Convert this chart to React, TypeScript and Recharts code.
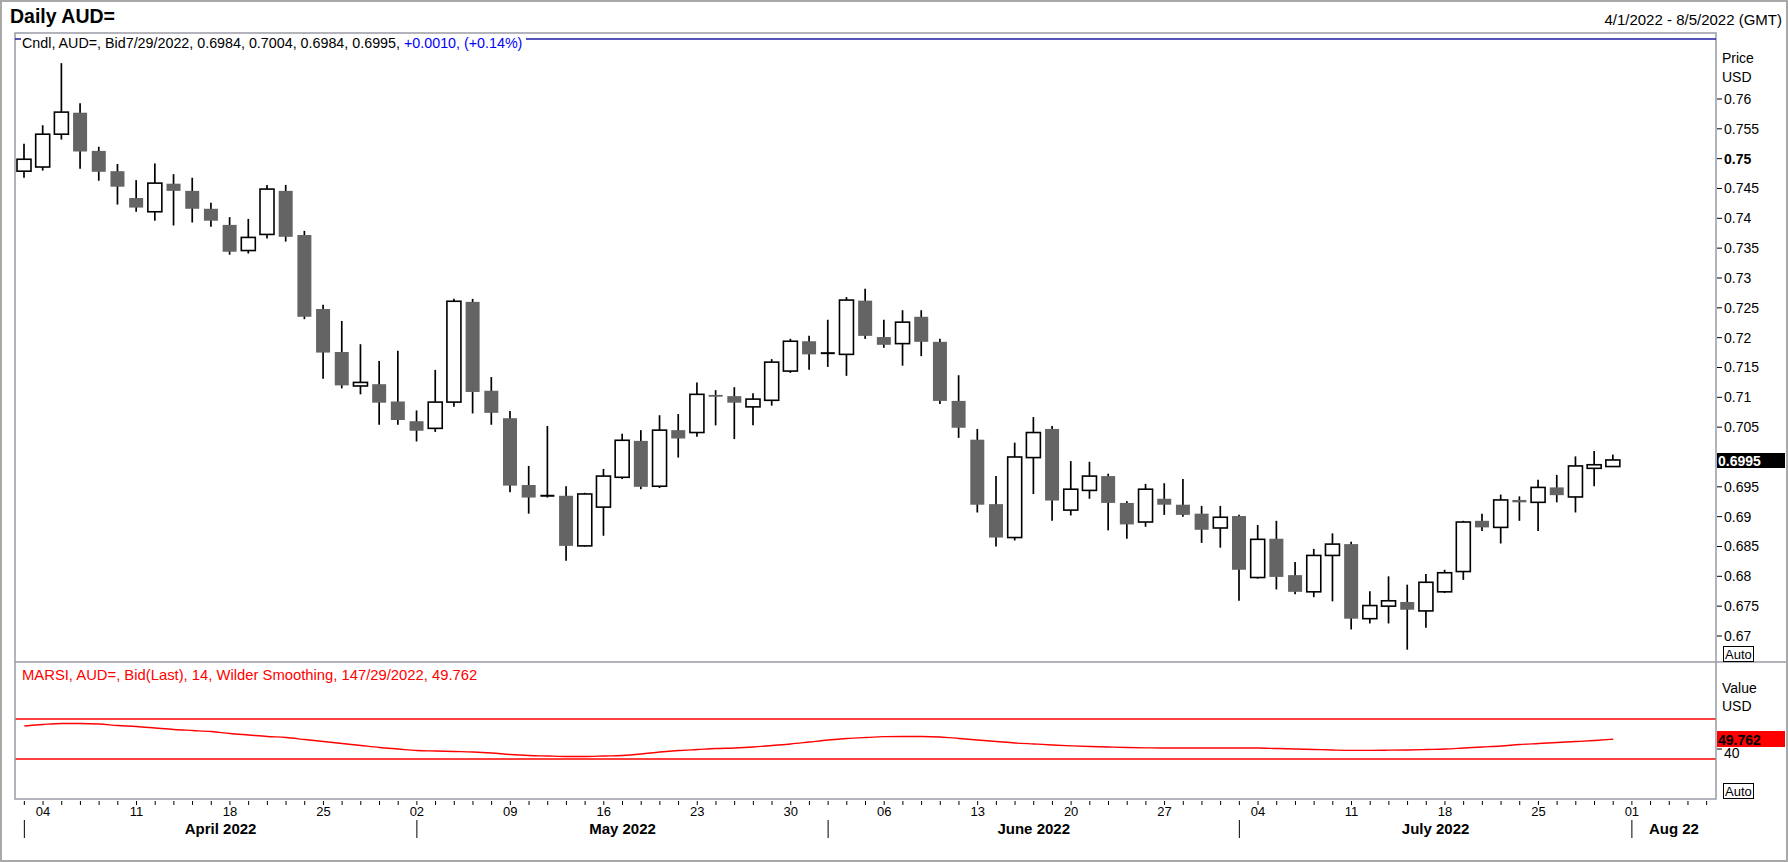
import { Bar, ComposedChart, Line, ReferenceLine, XAxis, YAxis } from "recharts";

// weekday slots on the axis, Apr 1 - Aug 5 2022
const dates = [
  "04-01", "04-04", "04-05", "04-06", "04-07", "04-08", "04-11", "04-12", "04-13", "04-14", "04-15",
  "04-18", "04-19", "04-20", "04-21", "04-22", "04-25", "04-26", "04-27", "04-28", "04-29",
  "05-02", "05-03", "05-04", "05-05", "05-06", "05-09", "05-10", "05-11", "05-12", "05-13",
  "05-16", "05-17", "05-18", "05-19", "05-20", "05-23", "05-24", "05-25", "05-26", "05-27", "05-30", "05-31",
  "06-01", "06-02", "06-03", "06-06", "06-07", "06-08", "06-09", "06-10", "06-13", "06-14", "06-15",
  "06-16", "06-17", "06-20", "06-21", "06-22", "06-23", "06-24", "06-27", "06-28", "06-29", "06-30",
  "07-01", "07-04", "07-05", "07-06", "07-07", "07-08", "07-11", "07-12", "07-13", "07-14", "07-15",
  "07-18", "07-19", "07-20", "07-21", "07-22", "07-25", "07-26", "07-27", "07-28", "07-29",
  "08-01", "08-02", "08-03", "08-04", "08-05",
];

const mondays = [
  "04-04", "04-11", "04-18", "04-25", "05-02", "05-09", "05-16", "05-23", "05-30",
  "06-06", "06-13", "06-20", "06-27", "07-04", "07-11", "07-18", "07-25", "08-01",
];

const monthStarts = ["04-01", "05-02", "06-01", "07-01", "08-01"];
const monthLabels = ["April 2022", "May 2022", "June 2022", "July 2022", "Aug 22"];

const open = [
  0.7479, 0.7486, 0.7541, 0.7577, 0.7513, 0.7479, 0.7434, 0.7411, 0.7458, 0.7446,
  0.7416, 0.7389, 0.7346, 0.7373, 0.7446, 0.7372, 0.7248, 0.7176, 0.7119, 0.7122,
  0.7093, 0.706, 0.7048, 0.7092, 0.726, 0.7111, 0.7065, 0.6953, 0.6935, 0.6935,
  0.6851, 0.6916, 0.6966, 0.7027, 0.6951, 0.7045, 0.7041, 0.7104, 0.7102, 0.7084,
  0.7095, 0.7144, 0.7194, 0.7174, 0.7172, 0.7262, 0.7201, 0.719, 0.7235, 0.7193,
  0.7094, 0.7029, 0.6921, 0.6865, 0.6999, 0.7047, 0.6911, 0.6944, 0.6968, 0.6923,
  0.6891, 0.693, 0.692, 0.6905, 0.6881, 0.6901, 0.6798, 0.6863, 0.6802, 0.6774,
  0.6835, 0.6854, 0.6729, 0.675, 0.6757, 0.6742, 0.6774, 0.6808, 0.6893, 0.6882,
  0.6928, 0.6924, 0.6949, 0.6933, 0.6981, 0.6984,
];

const high = [
  0.7525, 0.7556, 0.766, 0.7593, 0.752, 0.7491, 0.7464, 0.7492, 0.7474, 0.7468,
  0.7426, 0.7402, 0.7399, 0.7456, 0.7456, 0.7379, 0.7255, 0.7228, 0.7189, 0.7161,
  0.7178, 0.7078, 0.7146, 0.7265, 0.7265, 0.7134, 0.7077, 0.6985, 0.7052, 0.6951,
  0.694, 0.698, 0.7039, 0.7045, 0.707, 0.7072, 0.7125, 0.7112, 0.7117, 0.7107,
  0.7164, 0.7198, 0.7203, 0.723, 0.7268, 0.7282, 0.723, 0.7246, 0.7246, 0.7198,
  0.7137, 0.7047, 0.6968, 0.7024, 0.7067, 0.7052, 0.6993, 0.6992, 0.6972, 0.6926,
  0.6955, 0.6956, 0.6963, 0.6918, 0.6918, 0.6903, 0.6886, 0.6893, 0.6824, 0.6846,
  0.6872, 0.6858, 0.6775, 0.68, 0.6786, 0.6804, 0.6811, 0.6893, 0.6905, 0.6937,
  0.6934, 0.6962, 0.697, 0.7001, 0.701, 0.7004,
];

const low = [
  0.7468, 0.748, 0.7532, 0.7483, 0.7463, 0.7423, 0.7411, 0.7396, 0.7388, 0.7393,
  0.7386, 0.7339, 0.7341, 0.7366, 0.7361, 0.7231, 0.7131, 0.7115, 0.7105, 0.7054,
  0.7054, 0.7026, 0.7042, 0.7084, 0.7073, 0.7054, 0.6941, 0.6905, 0.6932, 0.6826,
  0.685, 0.6868, 0.6963, 0.6946, 0.6948, 0.6999, 0.7034, 0.7053, 0.703, 0.7053,
  0.7086, 0.7141, 0.7146, 0.7151, 0.7136, 0.7198, 0.7183, 0.7153, 0.7169, 0.7089,
  0.7032, 0.6907, 0.685, 0.686, 0.6938, 0.6893, 0.6902, 0.693, 0.6877, 0.6863,
  0.6883, 0.6903, 0.69, 0.6856, 0.6848, 0.6759, 0.6796, 0.6778, 0.677, 0.6765,
  0.6758, 0.6711, 0.6721, 0.6721, 0.6677, 0.6714, 0.6772, 0.6794, 0.6876, 0.6855,
  0.6893, 0.6876, 0.6924, 0.6907, 0.6951, 0.6984,
];

const close = [
  0.7499, 0.7541, 0.7578, 0.7512, 0.7478, 0.7453, 0.7418, 0.7459, 0.7446, 0.7416,
  0.7396, 0.7344, 0.7368, 0.7449, 0.7369, 0.7235, 0.7175, 0.712, 0.7125, 0.7091,
  0.7062, 0.7044, 0.7092, 0.7261, 0.7109, 0.7074, 0.6952, 0.6932, 0.6934, 0.6851,
  0.6938, 0.6968, 0.7028, 0.695, 0.7045, 0.7031, 0.7105, 0.7101, 0.7091, 0.7097,
  0.7159, 0.7194, 0.7172, 0.7174, 0.7263, 0.7203, 0.7188, 0.7226, 0.7193, 0.7094,
  0.7049, 0.692, 0.6865, 0.7, 0.7041, 0.6927, 0.6946, 0.6968, 0.6923, 0.6887,
  0.6946, 0.692, 0.6903, 0.6878, 0.6899, 0.6811, 0.6862, 0.6799, 0.6774, 0.6835,
  0.6854, 0.6729, 0.6751, 0.6759, 0.6744, 0.679, 0.6806, 0.6891, 0.6882, 0.6928,
  0.6924, 0.6949, 0.6936, 0.6985, 0.6987, 0.6995,
];

const rsi = [
  63, 64.5, 65.5, 65.5, 65, 63.5, 62.5, 61, 59.5, 58.5,
  57.5, 55.5, 54, 52.5, 51.5, 49.5, 47.5, 45.5, 43.5, 41.5,
  40, 38.5, 38, 37.5, 37, 36, 34.5, 33.5, 33, 32.5,
  32.5, 33, 33.5, 35, 37, 38.5, 39.5, 40.5, 41, 42,
  43.5, 45, 47, 49, 50.5, 51.5, 52.3, 52.5, 52.5, 52,
  50.5, 49, 47.5, 46, 45, 44, 43.2, 42.5, 42, 41.5,
  41.2, 41, 41, 41, 41, 41, 41, 40.5, 40, 39.5,
  39, 38.7, 38.7, 38.8, 39, 39.5, 40, 41, 42, 43,
  44.5, 45.5, 46.5, 47.5, 48.5, 49.762,
];

const priceTicks = [
  0.67, 0.675, 0.68, 0.685, 0.69, 0.695, 0.7, 0.705, 0.71, 0.715,
  0.72, 0.725, 0.73, 0.735, 0.74, 0.745, 0.75, 0.755, 0.76,
];

const rows = dates.map((d, i) => ({
  d,
  o: open[i] ?? null,
  h: high[i] ?? null,
  l: low[i] ?? null,
  c: close[i] ?? null,
  rsi: rsi[i] ?? null,
}));

const FONT = "'Liberation Sans', Arial, Helvetica, sans-serif";
const W = 1788;
const PLOT_L = 15;
const PLOT_R = 1716;
const BAND = (PLOT_R - PLOT_L) / dates.length;
const FRAME = "#9a9aa6";

function Candle(props: any) {
  const { x, y, width, height, payload } = props;
  if (payload == null || payload.h == null) return <g />;
  const top = Math.min(y, y + height);
  const hh = Math.abs(height);
  const k = hh / (payload.h - payload.l || 1);
  const py = (v: number) => top + (payload.h - v) * k;
  const cx = x + width / 2;
  const up = payload.c > payload.o;
  const bTop = py(Math.max(payload.o, payload.c));
  const bBot = py(Math.min(payload.o, payload.c));
  const doji = Math.abs(payload.o - payload.c) < 0.00015;
  return (
    <g>
      <line x1={cx} x2={cx} y1={top} y2={top + hh} stroke="#000" strokeWidth={1.7} />
      {doji ? (
        <line x1={x} x2={x + width} y1={bTop} y2={bTop} stroke="#000" strokeWidth={2} />
      ) : (
        <rect
          x={x}
          y={bTop}
          width={width}
          height={Math.max(bBot - bTop, 1.5)}
          fill={up ? "#ffffff" : "#646464"}
          stroke={up ? "#000" : "none"}
          strokeWidth={1.6}
        />
      )}
    </g>
  );
}

function PriceTick(props: any) {
  const { y, payload } = props;
  const v = payload.value;
  return (
    <g>
      <line x1={PLOT_R + 1} x2={PLOT_R + 6} y1={y} y2={y} stroke="#000" />
      {/* 0.7 sits under the last-price box in the reference */}
      {v !== 0.7 && (
        <text x={PLOT_R + 8} y={y} dy="0.35em" fontSize={14} fontWeight={v === 0.75 ? "bold" : "normal"} fill="#000">
          {String(v)}
        </text>
      )}
    </g>
  );
}

function RsiTick(props: any) {
  const { y, payload } = props;
  return (
    <g>
      <line x1={PLOT_R + 1} x2={PLOT_R + 6} y1={y} y2={y} stroke="#000" />
      <text x={PLOT_R + 8} y={y + 4} dy="0.35em" fontSize={14} fill="#000">
        {String(payload.value)}
      </text>
    </g>
  );
}

// x axis of the lower panel: one tick per weekday, day number on Mondays, month row below
function DateTick(props: any) {
  const { x, payload } = props;
  const d: string = payload.value;
  const axisY = 137;
  const mi = monthStarts.indexOf(d);
  let month = null;
  if (mi >= 0) {
    const s = dates.indexOf(d);
    const e = mi + 1 < monthStarts.length ? dates.indexOf(monthStarts[mi + 1]) : dates.length - 0.5;
    const cx = x + ((e - s) / 2) * BAND;
    month = (
      <g>
        <line x1={x} x2={x} y1={axisY + 21} y2={axisY + 39} stroke="#000" />
        <text x={cx} y={axisY + 35} textAnchor="middle" fontSize={15} fontWeight="bold" fill="#000">
          {monthLabels[mi]}
        </text>
      </g>
    );
  }
  return (
    <g>
      <line x1={x} x2={x} y1={axisY + 2} y2={axisY + 6} stroke="#000" />
      {mondays.includes(d) && (
        <text x={x} y={axisY + 17} textAnchor="middle" fontSize={13} fill="#000">
          {d.slice(3)}
        </text>
      )}
      {month}
    </g>
  );
}

export default function App() {
  return (
    <div
      style={{
        position: "absolute",
        left: 0,
        top: 0,
        width: W,
        height: 862,
        background: "#fff",
        overflow: "hidden",
        fontFamily: FONT,
      }}
    >
      <div style={{ position: "absolute", left: 0, top: 0 }}>
        <ComposedChart width={W} height={662} data={rows} margin={{ top: 33, right: 0, bottom: 0, left: PLOT_L }}>
          <XAxis dataKey="d" hide />
          <YAxis
            orientation="right"
            width={72}
            domain={[0.66564, 0.77106]}
            allowDataOverflow
            ticks={priceTicks}
            interval={0}
            axisLine={false}
            tickLine={false}
            tick={<PriceTick />}
          />
          <Bar
            dataKey={(r: any) => (r.h == null ? null : [r.l, r.h])}
            barSize={14}
            shape={<Candle />}
            isAnimationActive={false}
          />
        </ComposedChart>
      </div>
      <div style={{ position: "absolute", left: 0, top: 662 }}>
        <ComposedChart width={W} height={200} data={rows} margin={{ top: 0, right: 0, bottom: 0, left: PLOT_L }}>
          <XAxis
            dataKey="d"
            height={63}
            interval={0}
            padding={{ left: BAND / 2, right: BAND / 2 }}
            axisLine={false}
            tickLine={false}
            tick={<DateTick />}
          />
          <YAxis
            orientation="right"
            width={72}
            domain={[-10, 127]}
            allowDataOverflow
            ticks={[40]}
            axisLine={false}
            tickLine={false}
            tick={<RsiTick />}
          />
          <ReferenceLine y={70} stroke="#ff0000" strokeWidth={1.3} />
          <ReferenceLine y={30} stroke="#ff0000" strokeWidth={1.3} />
          <Line
            dataKey="rsi"
            type="monotone"
            stroke="#ff0000"
            strokeWidth={1.3}
            dot={false}
            isAnimationActive={false}
          />
        </ComposedChart>
      </div>
      <svg
        width={W}
        height={862}
        style={{ position: "absolute", left: 0, top: 0, pointerEvents: "none" }}
      >
        <rect x={1} y={1} width={W - 2} height={860} fill="none" stroke="#a8a8a8" strokeWidth={2} />
        <text x={10} y={23} fontSize={19.5} fontWeight="bold" fill="#000">
          Daily AUD=
        </text>
        <text x={1782} y={25} fontSize={15} textAnchor="end" fill="#000">
          4/1/2022 - 8/5/2022 (GMT)
        </text>
        <rect x={PLOT_L} y={33} width={PLOT_R - PLOT_L} height={766} fill="none" stroke={FRAME} strokeWidth={1.5} />
        <line x1={PLOT_L} x2={1786} y1={662} y2={662} stroke={FRAME} strokeWidth={1.5} />
        <line x1={PLOT_L} x2={PLOT_R} y1={39} y2={39} stroke="#1c1ca0" strokeWidth={1.3} />
        <rect x={21} y={34} width={505} height={14} fill="#fff" />
        <text x={22} y={48} fontSize={14.3} fill="#000">
          Cndl, AUD=, Bid7/29/2022, 0.6984, 0.7004, 0.6984, 0.6995,{" "}
          <tspan fill="#0000ff">+0.0010, (+0.14%)</tspan>
        </text>
        <text x={22} y={680} fontSize={14.8} fill="#ff0000">
          MARSI, AUD=, Bid(Last),  14, Wilder Smoothing, 147/29/2022, 49.762
        </text>
        <text x={1722} y={63} fontSize={14} fill="#000">Price</text>
        <text x={1722} y={82} fontSize={14} fill="#000">USD</text>
        <rect x={1717} y={453} width={68} height={15} fill="#000" />
        <text x={1718} y={466} fontSize={14} fontWeight="bold" fill="#fff">0.6995</text>
        <rect x={1723.5} y={646.5} width={30} height={15} fill="#fff" stroke="#000" />
        <text x={1725} y={659} fontSize={13} fill="#000">Auto</text>
        <text x={1722} y={693} fontSize={14} fill="#000">Value</text>
        <text x={1722} y={711} fontSize={14} fill="#000">USD</text>
        <rect x={1717} y={731} width={68} height={16} fill="#ff0000" />
        <text x={1718} y={745} fontSize={14} fontWeight="bold" fill="#000">49.762</text>
        <rect x={1723.5} y={783.5} width={30} height={15} fill="#fff" stroke="#000" />
        <text x={1725} y={796} fontSize={13} fill="#000">Auto</text>
      </svg>
    </div>
  );
}
